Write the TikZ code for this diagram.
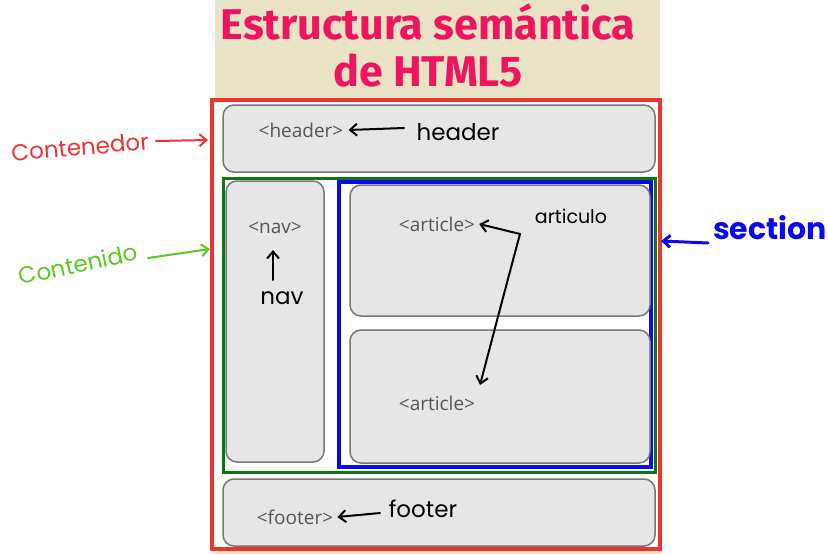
\documentclass[tikz,border=0pt]{standalone}
\usepackage{fontspec}
\setmainfont{Open Sans}
\newfontfamily\titlefont{Fira Sans}
\newfontfamily\handfont{Poppins}
\usetikzlibrary{arrows.meta}
\definecolor{beige}{HTML}{E8E3C4}
\definecolor{titlepink}{HTML}{F0135E}
\definecolor{cred}{HTML}{F03232}
\definecolor{cgreen}{HTML}{0A780A}
\definecolor{cblue}{HTML}{0A0AEE}
\definecolor{boxfill}{HTML}{E6E6E6}
\definecolor{boxline}{HTML}{777777}
\definecolor{tagtext}{HTML}{555555}
\definecolor{handgreen}{HTML}{5CC81E}
\tikzset{
  x=1pt,y=-1pt,
  htmlbox/.style={draw=boxline,line width=1.5pt,fill=boxfill,rounded corners=11pt},
  tag/.style={text=tagtext,font=\fontsize{19}{22}\selectfont,inner sep=0pt},
  hand/.style={font=\handfont\fontsize{23}{26}\selectfont,inner sep=0pt},
  handarrow/.style={line width=2pt,-{Straight Barb[length=7pt,width=12pt]},line cap=round},
}
\begin{document}
\begin{tikzpicture}
\useasboundingbox (0,0) rectangle (828,554);
% background
\fill[beige] (215,0) rectangle (660,554);
\node[font=\titlefont\bfseries\fontsize{43}{47}\selectfont,text=titlepink,align=center,inner sep=0pt] (title) at (428,45) {Estructura semántica\\de HTML5};
% container
\draw[cred,line width=3.5pt,fill=white] (212,100) rectangle (660,549);
\draw[htmlbox] (223,105) rectangle (655,172);
\draw[cgreen,line width=3pt] (223,178) rectangle (655,472);
\draw[htmlbox] (226,181) rectangle (324,462);
\draw[cblue,line width=3.5pt] (339,182) rectangle (651,467);
\draw[htmlbox] (350,185) rectangle (650,316);
\draw[htmlbox] (350,330) rectangle (650,463);
\draw[htmlbox] (223,479) rectangle (655,546);
% tags
\node[tag] (theader) at (301,130) {<header>};
\node[tag] (tnav) at (275,228) {<nav>};
\node[tag] (tart1) at (437,224) {<article>};
\node[tag] (tart2) at (437,403) {<article>};
\node[tag] (tfooter) at (295,517) {<footer>};
% annotations
\node[hand,text=cred,rotate=5] (lcont) at (80,147) {Contenedor};
\coordinate (cont1) at (156,141);
\coordinate (cont2) at (208,140);
\draw[handarrow,cred] (cont1) -- (cont2);
\node[hand,text=handgreen,rotate=12] (lcontenido) at (78,264) {Contenido};
\coordinate (cd1) at (148,258);
\coordinate (cd2) at (210,249);
\draw[handarrow,handgreen] (cd1) -- (cd2);
\node[hand] (lheader) at (458,132) {header};
\coordinate (h1) at (404,128);
\draw[handarrow] (h1) -- ([xshift=5pt]theader.east);
\node[hand] (lnav) at (282,298) {nav};
\coordinate (n1) at (273,280);
\coordinate (n2) at (273,250);
\draw[handarrow] (n1) -- (n2);
\node[hand,font=\handfont\fontsize{19}{22}\selectfont] (lart) at (571,216) {articulo};
\coordinate (a0) at (520,234);
\coordinate (a2) at (480,385);
\draw[handarrow] (a0) -- ([xshift=4pt]tart1.east);
\draw[handarrow] (a0) .. controls (505,290) .. (a2);
\node[hand,text=cblue,font=\handfont\bfseries\fontsize{30}{32}\selectfont] (lsec) at (770,228) {section};
\coordinate (s1) at (708,243);
\coordinate (s2) at (661,241);
\draw[handarrow,cblue,line width=3pt] (s1) -- (s2);
\node[hand] (lfooter) at (423,509) {footer};
\coordinate (f1) at (380,513);
\draw[handarrow] (f1) -- ([xshift=4pt]tfooter.east);
\end{tikzpicture}
\end{document}
